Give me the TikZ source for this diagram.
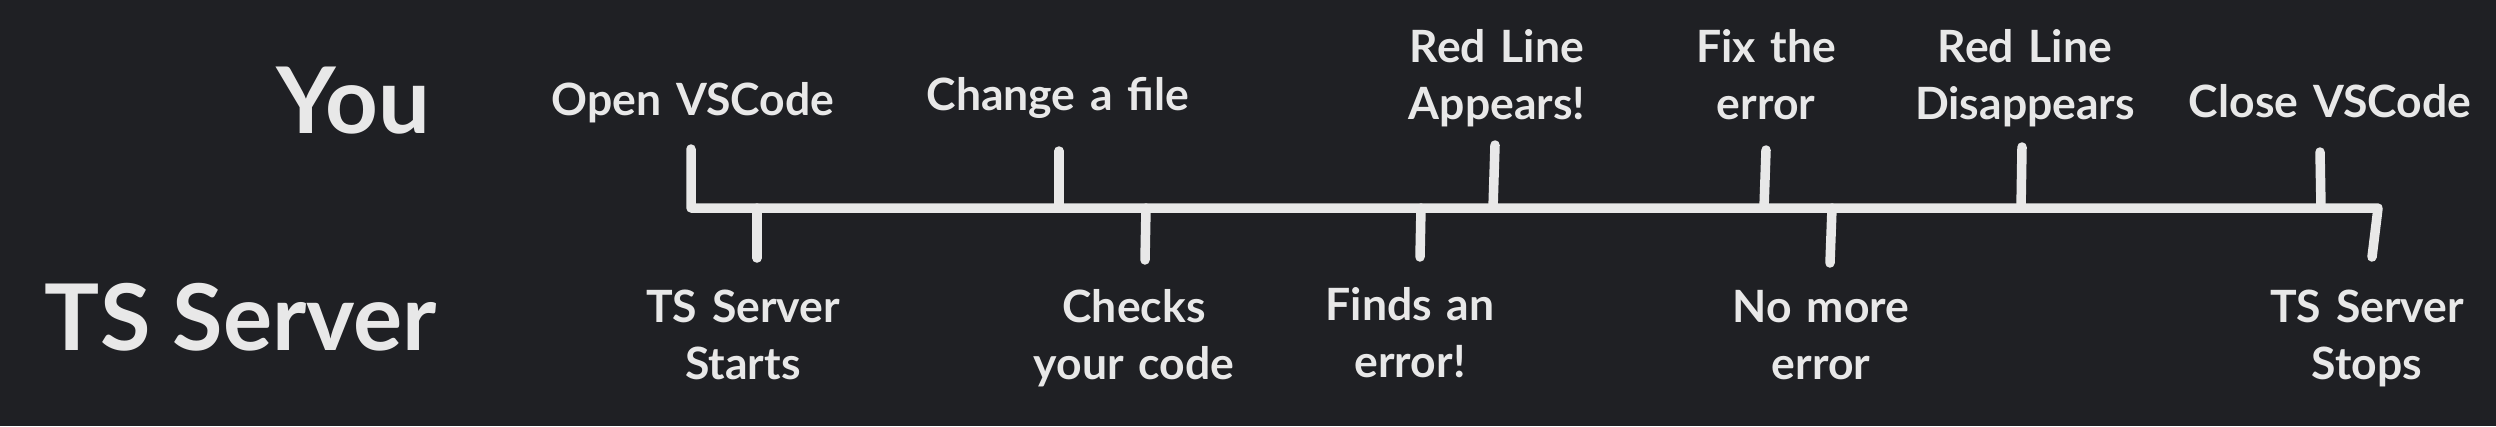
\documentclass[tikz,border=0pt]{standalone}
\usepackage{fontspec}
\setmainfont{Lato}
\definecolor{bg}{RGB}{31,32,36}
\definecolor{ink}{RGB}{232,232,232}
\begin{document}
\begin{tikzpicture}[x=1pt,y=-1pt,
  title/.style={text=ink,font=\fontsize{92}{100}\selectfont\bfseries,anchor=base,inner sep=0pt},
  lbl/.style={text=ink,font=\fontsize{44.5}{57}\selectfont\bfseries,anchor=base,inner sep=0pt,align=center,text width=340pt},
  tick/.style={draw=ink,line width=9.5pt,line cap=round,line join=round}]
\fill[bg] (0,0) rectangle (2496,426);
\useasboundingbox (0,0) rectangle (2496,426);
% row titles
\node[title] (you) at (353,133) {You};
\node[title] (ts) at (241,350) {TS Server};
% labels above
\node[lbl] (open) at (693,115) {Open VSCode};
\node[lbl] (change) at (1058,110) {Change a file};
\node[lbl] (appear) at (1497,62) {Red Line\\Appears!};
\node[lbl] (fix) at (1766,62) {Fix the\\error};
\node[lbl] (disappear) at (2025,62) {Red Line\\Disappears};
\node[lbl] (close) at (2330,117) {Close VSCode};
% labels below
\node[lbl] (starts) at (743,322) {TS Server\\Starts};
\node[lbl] (checks) at (1134,322) {Checks\\your code};
\node[lbl] (finds) at (1410,320) {Finds an\\error!};
\node[lbl] (nomore) at (1821,322) {No more\\error};
\node[lbl] (stops) at (2367,322) {TS Server\\Stops};
% timeline points
\coordinate (a0) at (691,149);
\coordinate (L) at (691,208);
\coordinate (R) at (2378,208);
\coordinate (b5) at (2372,257);
\coordinate (a1t) at (1059,151); \coordinate (a1) at (1059,208);
\coordinate (a2t) at (1495,145); \coordinate (a2) at (1493,208);
\coordinate (a3t) at (1766,150); \coordinate (a3) at (1764,208);
\coordinate (a4t) at (2022,147); \coordinate (a4) at (2021,208);
\coordinate (a5t) at (2320,152); \coordinate (a5) at (2321,208);
\coordinate (b1) at (757,208); \coordinate (b1e) at (757,258);
\coordinate (b2) at (1146,208); \coordinate (b2e) at (1145,260);
\coordinate (b3) at (1421,208); \coordinate (b3e) at (1420,257);
\coordinate (b4) at (1832,208); \coordinate (b4e) at (1830,263);
% main line
\draw[tick] (a0) -- (L) -- (R) -- (b5);
\foreach \p in {1,...,5} {\draw[tick] (a\p) -- (a\p t);}
\foreach \p in {1,...,4} {\draw[tick] (b\p) -- (b\p e);}
\end{tikzpicture}
\end{document}
